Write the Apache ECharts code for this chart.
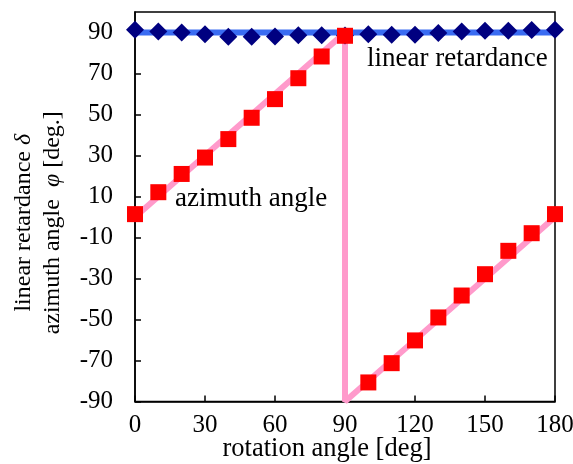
<!DOCTYPE html>
<html><head><meta charset="utf-8">
<script src="https://cdn.jsdelivr.net/npm/echarts@6/dist/echarts.min.js"></script>
<style>html,body{margin:0;padding:0;background:#fff}#c{width:573px;height:464px}</style>
</head><body><div id="c"></div>
<script>
// ---- data ----
const rotationAngles = [0,10,20,30,40,50,60,70,80,90,100,110,120,130,140,150,160,170,180];
const linearRetardance = [91.3,90.5,90.0,89.2,87.9,87.9,88.1,88.7,88.7,88.5,89.2,88.9,88.9,89.7,90.5,90.8,90.8,91.2,91.3];
const azimuthAngle = [1.4,12.1,21.0,29.0,38.0,48.4,57.5,67.7,78.3,88.4,-80.7,-71.3,-60.2,-49.0,-38.3,-27.9,-16.5,-7.9,1.4];
const retardanceRefX = [0,180];
const retardanceRefY = [90,90];
const azimuthTheoryX = [0,90,90,180];
const azimuthTheoryY = [0,90,-90,0];
const xTicks = [0,30,60,90,120,150,180];
const yTicks = [-90,-70,-50,-30,-10,10,30,50,70,90];
const xTitle = 'rotation angle [deg]';
const yTitle = 'linear retardance {i|δ}\nazimuth angle  {i|φ} [deg.]';
const labelRetardance = 'linear retardance';
const labelAzimuth = 'azimuth angle';

const FONT = '"Liberation Serif", "Times New Roman", serif';
const pair = (xs, ys) => xs.map((x, i) => [x, ys[i]]);

const chart = echarts.init(document.getElementById('c'), null, {renderer: 'canvas'});
chart.setOption({
  animation: false,
  backgroundColor: '#fff',
  grid: {left: 135, right: 18, top: 12, bottom: 62.5, containLabel: false, outerBoundsMode: 'none',
         show: true, borderColor: '#000', borderWidth: 1.5, backgroundColor: 'transparent'},
  xAxis: {
    type: 'value', min: 0, max: 180, interval: 30,
    axisLine: {onZero: false, lineStyle: {color: '#000', width: 1.5}},
    axisTick: {inside: true, length: 6, lineStyle: {color: '#000', width: 1.5}, customValues: xTicks},
    axisLabel: {color: '#000', fontFamily: FONT, fontSize: 25, margin: 11, customValues: xTicks},
    splitLine: {show: false},
    name: xTitle, nameLocation: 'middle', nameGap: 34, nameMoveOverlap: false,
    nameTextStyle: {color: '#000', fontFamily: FONT, fontSize: 26.5, padding: [0, 36, 0, 0]}
  },
  yAxis: {
    type: 'value', min: -90, max: 100,
    axisLine: {onZero: false, lineStyle: {color: '#000', width: 1.5}},
    axisTick: {inside: true, length: 6, lineStyle: {color: '#000', width: 1.5}, customValues: yTicks},
    axisLabel: {color: '#000', fontFamily: FONT, fontSize: 25, margin: 22, customValues: yTicks},
    splitLine: {show: false},
    name: yTitle, nameLocation: 'middle', nameGap: 68, nameRotate: 90, nameMoveOverlap: false,
    nameTextStyle: {color: '#000', fontFamily: FONT, fontSize: 24, lineHeight: 29, padding: [0, 32, 0, 0],
      rich: {i: {fontStyle: 'italic', fontFamily: FONT, fontSize: 24, lineHeight: 29}}}
  },
  series: [
    {type: 'line', data: pair(retardanceRefX, retardanceRefY), showSymbol: false, symbol: 'none',
     lineStyle: {color: '#3a6cf2', width: 6}, z: 1, silent: true},
    {type: 'line', data: pair(azimuthTheoryX, azimuthTheoryY), showSymbol: false, symbol: 'none',
     lineStyle: {color: '#ff9acb', width: 6}, z: 2, silent: true},
    {type: 'scatter', data: pair(rotationAngles, linearRetardance), symbol: 'diamond', symbolSize: 18,
     itemStyle: {color: '#000080', opacity: 1}, z: 3},
    {type: 'scatter', data: pair(rotationAngles, azimuthAngle), symbol: 'rect', symbolSize: 16,
     itemStyle: {color: '#ff0000', opacity: 1}, z: 4}
  ],
  graphic: [
    {type: 'text', left: 367, top: 45, z: 10, style: {text: labelRetardance, font: '27px ' + FONT, fill: '#000'}},
    {type: 'text', left: 175, top: 185, z: 10, style: {text: labelAzimuth, font: '27px ' + FONT, fill: '#000'}}
  ]
});
</script>
</body></html>
